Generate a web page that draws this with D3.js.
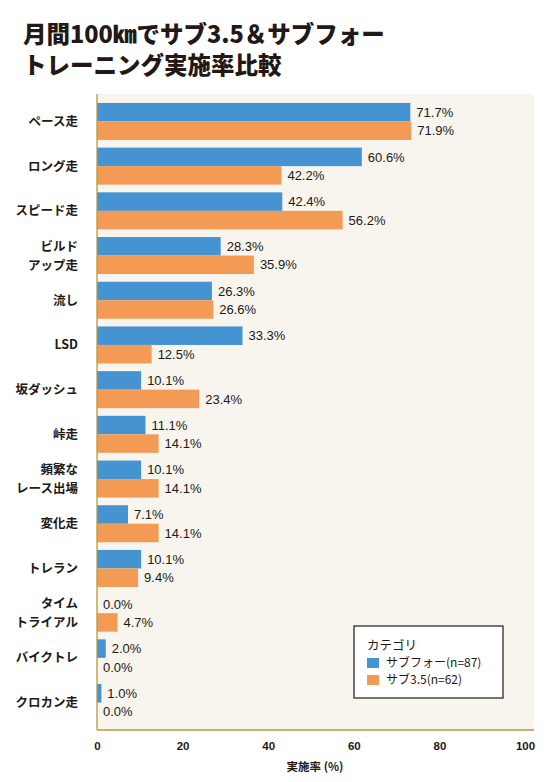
<!DOCTYPE html>
<html>
<head>
  <meta charset="utf-8">
  <title>training rate</title>
  <style>
    body { margin: 0; background: #fff; }
    svg text { font-family: "Noto Sans CJK JP", "Noto Sans", sans-serif; }
  </style>
</head>
<body>
  <svg width="552" height="782" class="chart"></svg>

  <script src="https://d3js.org/d3.v7.min.js"></script>
  <script type="text/javascript">

  // data
  var categories = ["ペース走", "ロング走", "スピード走", "ビルド\nアップ走", "流し", "LSD", "坂ダッシュ",
    "峠走", "頻繁な\nレース出場", "変化走", "トレラン", "タイム\nトライアル", "バイクトレ", "クロカン走"];
  var sub4 = [71.7, 60.6, 42.4, 28.3, 26.3, 33.3, 10.1, 11.1, 10.1, 7.1, 10.1, 0.0, 2.0, 1.0];
  var sub35 = [71.9, 42.2, 56.2, 35.9, 26.6, 12.5, 23.4, 14.1, 14.1, 14.1, 9.4, 4.7, 0.0, 0.0];
  var seriesNames = ["サブフォー(n=87)", "サブ3.5(n=62)"];
  var xTicks = [0, 20, 40, 60, 80, 100];

  var blue = "#4593d0", orange = "#f39b55";

  var svg = d3.select(".chart");

  // title
  var title = svg.append("text")
    .style("font-size", "23.5px").style("font-weight", "900").attr("fill", "#231815");
  title.append("tspan").attr("x", 23).attr("y", 43).text("月間100㎞でサブ3.5＆サブフォー");
  title.append("tspan").attr("x", 23).attr("y", 74).text("トレーニング実施率比較");

  var pL = 97, pR = 534, pT = 94, pB = 730;

  var x = d3.scaleLinear().domain([0, 100]).range([pL, pR]);
  // tick labels in the picture sit on a slightly narrower scale
  var xLab = d3.scaleLinear().domain([0, 100]).range([pL, 525]);
  var y = d3.scaleBand().domain(d3.range(categories.length)).range([pT, pB])
    .paddingInner(0.172).paddingOuter(0.2);
  var sub = d3.scaleBand().domain([0, 1]).range([0, y.bandwidth()]);

  svg.append("rect").attr("x", pL).attr("y", pT)
    .attr("width", pR - pL).attr("height", pB - pT).attr("fill", "#f7f5ed");

  var rows = categories.map(function(c, i) { return [sub4[i], sub35[i]]; });

  var g = svg.selectAll(".row").data(rows).enter().append("g")
    .attr("transform", function(d, i) { return "translate(0," + y(i) + ")"; });

  g.selectAll("rect").data(function(d) { return d; }).enter().append("rect")
    .attr("x", x(0))
    .attr("y", function(d, j) { return sub(j); })
    .attr("width", function(d) { return x(d) - x(0); })
    .attr("height", sub.bandwidth())
    .attr("fill", function(d, j) { return j == 0 ? blue : orange; });

  g.selectAll(".val").data(function(d) { return d; }).enter().append("text")
    .attr("x", function(d) { return x(d) + 6; })
    .attr("y", function(d, j) { return sub(j) + sub.bandwidth() / 2; })
    .attr("dy", "0.36em")
    .style("font-family", "'Liberation Sans', Arial, sans-serif")
    .style("font-size", "13px").attr("fill", "#231815")
    .text(function(d) { return d.toFixed(1) + "%"; });

  // category labels
  svg.selectAll(".cat").data(categories).enter().append("text")
    .attr("text-anchor", "end")
    .style("font-size", "12.5px").style("font-weight", "bold").attr("fill", "#231815")
    .each(function(d, i) {
      var lines = d.split("\n");
      var cy = y(i) + y.bandwidth() / 2;
      var t = d3.select(this);
      lines.forEach(function(l, k) {
        t.append("tspan").attr("x", 78)
          .attr("y", cy + (k - (lines.length - 1) / 2) * 19)
          .attr("dy", "0.36em").text(l);
      });
    });

  // axes lines
  svg.append("line").attr("x1", pL).attr("x2", pL).attr("y1", pT).attr("y2", pB)
    .attr("stroke", "#b59a3e").attr("stroke-width", 1.3);
  svg.append("line").attr("x1", pL).attr("x2", pR).attr("y1", pB).attr("y2", pB)
    .attr("stroke", "#b59a3e").attr("stroke-width", 1.3);

  var ax = svg.append("g").attr("transform", "translate(0," + 742 + ")")
    .call(d3.axisBottom(xLab).tickValues(xTicks).tickSize(0).tickPadding(0));
  ax.select(".domain").remove();
  ax.selectAll("text").style("font-family", "'Liberation Sans', Arial, sans-serif")
    .style("font-size", "11.5px").style("font-weight", "bold").attr("fill", "#231815");

  svg.append("text").attr("x", 315).attr("y", 771).attr("text-anchor", "middle")
    .style("font-size", "11.5px").style("font-weight", "bold").attr("fill", "#231815")
    .text("実施率 (%)");

  // legend
  var lg = svg.append("g").attr("transform", "translate(354,626)");
  lg.append("rect").attr("width", 149).attr("height", 72)
    .attr("fill", "#fff").attr("stroke", "#231815").attr("stroke-width", 1.2);
  lg.append("text").attr("x", 13).attr("y", 24).style("font-size", "12.5px")
    .attr("fill", "#231815").text("カテゴリ");
  var li = lg.selectAll(".li").data(seriesNames).enter().append("g")
    .attr("transform", function(d, i) { return "translate(13," + (32 + i * 17) + ")"; });
  li.append("rect").attr("width", 12).attr("height", 10)
    .attr("fill", function(d, i) { return i == 0 ? blue : orange; });
  li.append("text").attr("x", 19).attr("y", 5).attr("dy", "0.35em")
    .style("font-size", "12px").attr("fill", "#231815").text(function(d) { return d; });

  </script>
</body>
</html>
